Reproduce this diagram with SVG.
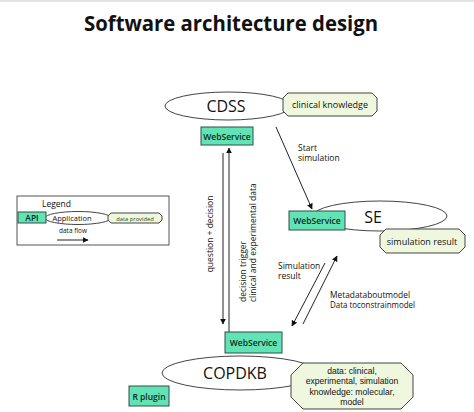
<svg xmlns="http://www.w3.org/2000/svg" width="474" height="412" viewBox="0 0 474 412">
<style>
text{font-family:"Open Sans","Liberation Sans",sans-serif;fill:#111}
.ws{fill:#62e3b6;stroke:#2f4f44;stroke-width:1}
.wst{font-size:8.5px;font-weight:600;fill:#0c2a20;text-anchor:middle}
.ell{fill:#fff;stroke:#444;stroke-width:1}
.oct{fill:#eff8de;stroke:#444;stroke-width:1}
.lbl{font-size:8.5px}
.ln{stroke:#222;stroke-width:1;fill:none}
.dt{font-family:"Liberation Sans",sans-serif;font-size:8.6px;text-anchor:middle}
</style>
<defs>
<marker id="ah" viewBox="0 0 10 10" refX="9" refY="5" markerWidth="6" markerHeight="6" orient="auto" markerUnits="userSpaceOnUse">
<path d="M0,0 L10,5 L0,10 z" fill="#111"/>
</marker>
</defs>
<rect x="0" y="0" width="474" height="412" fill="#fff"/>
<rect x="0" y="0" width="474" height="2" fill="#e2e2e2"/>
<text x="231" y="31" text-anchor="middle" font-size="22" font-weight="bold" textLength="294" lengthAdjust="spacingAndGlyphs">Software architecture design</text>

<g id="legend">
<rect x="17" y="196" width="152" height="49" fill="#fff" stroke="#555" stroke-width="1"/>
<text x="42" y="207" font-size="8.5">Legend</text>
<ellipse cx="78" cy="218" rx="33" ry="6.5" class="ell"/>
<rect x="18" y="212" width="28" height="11" class="ws"/>
<text x="32" y="221" class="wst" font-weight="normal">API</text>
<text x="72" y="221" font-size="7.5" text-anchor="middle">Application</text>
<polygon points="111,213 159,213 162,216 162,220 159,223 111,223 108,220 108,216" class="oct"/>
<text x="135" y="220.5" font-size="5.8" text-anchor="middle" style="fill:#2a4a1a">data provided</text>
<text x="73" y="233" font-size="6.5" text-anchor="middle">data flow</text>
<line x1="57" y1="240" x2="88" y2="240" class="ln" stroke-width="1.3" marker-end="url(#ah)"/>
</g>

<g id="connectors">
<line x1="276" y1="127" x2="312" y2="209" class="ln" marker-end="url(#ah)"/>
<line x1="223" y1="153" x2="223" y2="324" class="ln" marker-end="url(#ah)"/>
<line x1="229" y1="332" x2="229" y2="148" class="ln" stroke-width="1.4" marker-end="url(#ah)"/>
<line x1="325" y1="263" x2="292" y2="326" class="ln" marker-end="url(#ah)"/>
<line x1="303" y1="324" x2="337" y2="256" class="ln" marker-end="url(#ah)"/>
<text x="298" y="151" class="lbl">Start</text>
<text x="298" y="161" class="lbl">simulation</text>
<text transform="translate(213,234) rotate(-90)" class="lbl" text-anchor="middle">question + decision</text>
<text transform="translate(246,302) rotate(-90)" class="lbl">decision trigger</text>
<text transform="translate(256,302) rotate(-90)" class="lbl">clinical and experimental data</text>
<text x="278" y="269" class="lbl">Simulation</text>
<text x="278" y="279" class="lbl">result</text>
<text x="330" y="298" class="lbl" textLength="80" lengthAdjust="spacingAndGlyphs">Metadataboutmodel</text>
<text x="330" y="308" class="lbl" textLength="85" lengthAdjust="spacingAndGlyphs">Data toconstrainmodel</text>
</g>

<g id="cdss">
<ellipse cx="228" cy="106" rx="63" ry="14" class="ell"/>
<text x="226" y="112" font-size="16" text-anchor="middle">CDSS</text>
</g>
<g id="clinical-knowledge">
<polygon points="288,93 372,93 377,98 377,111 372,116 288,116 283,111 283,98" class="oct"/>
<text x="330" y="108" font-size="9" text-anchor="middle">clinical knowledge</text>
</g>
<g id="webservice-cdss">
<rect x="201" y="127" width="52" height="18" class="ws"/>
<text x="227" y="139.5" class="wst">WebService</text>
</g>

<g id="se">
<ellipse cx="380" cy="216" rx="67" ry="15" class="ell"/>
<text x="373" y="223" font-size="16" text-anchor="middle">SE</text>
</g>
<g id="webservice-se">
<rect x="289" y="211" width="56" height="19" class="ws"/>
<text x="317" y="224" class="wst">WebService</text>
</g>
<g id="simulation-result">
<polygon points="386,229 459,229 465,235 465,247 459,253 386,253 380,247 380,235" class="oct"/>
<text x="422" y="244.5" font-size="9" text-anchor="middle">simulation result</text>
</g>

<g id="copdkb">
<ellipse cx="240" cy="373" rx="78" ry="17" class="ell"/>
<text x="235" y="379" font-size="16" text-anchor="middle">COPDKB</text>
</g>
<g id="webservice-copdkb">
<rect x="225" y="332" width="57" height="21" class="ws"/>
<text x="253.5" y="346" class="wst">WebService</text>
</g>
<g id="r-plugin">
<rect x="129" y="386" width="40" height="20" class="ws"/>
<text x="149" y="399.5" class="wst">R plugin</text>
</g>
<g id="data">
<polygon points="303,363 401,363 413,375 413,397 401,409 303,409 291,397 291,375" class="oct"/>
<text x="352" y="374" class="dt">data: clinical,</text>
<text x="352" y="384.3" class="dt">experimental, simulation</text>
<text x="352" y="394.6" class="dt">knowledge: molecular,</text>
<text x="352" y="404.9" class="dt">model</text>
</g>
</svg>
